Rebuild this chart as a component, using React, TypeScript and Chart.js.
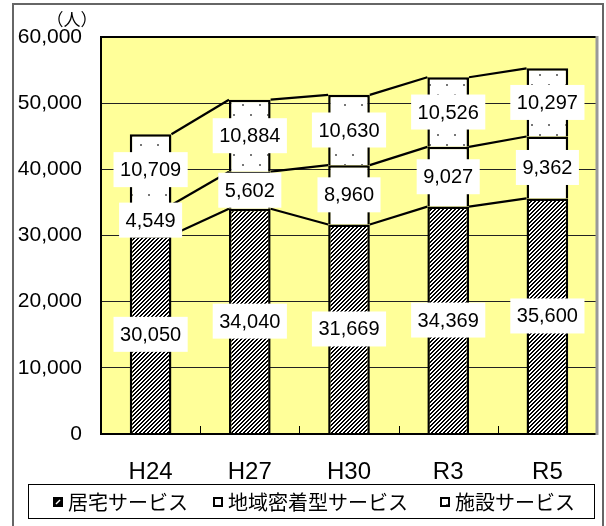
import React, { useEffect, useRef } from "react";
import { Chart, registerables } from "chart.js";

Chart.register(...registerables);

const categories = ["H24", "H27", "H30", "R3", "R5"];
const homeCare = [30050, 34040, 31669, 34369, 35600];
const communityBased = [4549, 5602, 8960, 9027, 9362];
const facility = [10709, 10884, 10630, 10526, 10297];
const seriesNames = ["居宅サービス", "地域密着型サービス", "施設サービス"];
const yTicks = [0, 10000, 20000, 30000, 40000, 50000, 60000];
const unitLabel = "（人）";

const LATIN = "'Liberation Sans', Arial, sans-serif";
const CJK = "'Noto Sans CJK JP', 'Noto Sans', sans-serif";

function makeHatch(ctx: CanvasRenderingContext2D) {
  const s = 4;
  const c = document.createElement("canvas");
  c.width = s;
  c.height = s;
  const g = c.getContext("2d")!;
  g.fillStyle = "#fff";
  g.fillRect(0, 0, s, s);
  g.fillStyle = "#000";
  for (let y = 0; y < s; y++) {
    const x0 = (s - 1 - y + s) % s;
    g.fillRect(x0, y, 1, 1);
    g.fillRect((x0 + 1) % s, y, 1, 1);
  }
  return ctx.createPattern(c, "repeat")!;
}

function makeDots(ctx: CanvasRenderingContext2D) {
  const w = 17;
  const h = 20;
  const c = document.createElement("canvas");
  c.width = w;
  c.height = h;
  const g = c.getContext("2d")!;
  g.fillStyle = "#fff";
  g.fillRect(0, 0, w, h);
  g.fillStyle = "#777";
  g.fillRect(4, 4, 2, 2);
  g.fillRect(12, 14, 2, 2);
  return ctx.createPattern(c, "repeat")!;
}

const framePlugin = {
  id: "frame",
  beforeDraw(chart: any) {
    const ctx = chart.ctx as CanvasRenderingContext2D;
    const a = chart.chartArea;
    ctx.save();
    ctx.fillStyle = "#fff";
    ctx.fillRect(0, 0, chart.width, chart.height);
    ctx.strokeStyle = "#666";
    ctx.lineWidth = 2;
    ctx.strokeRect(13, 4, 590, 560);
    ctx.fillStyle = "#FFFF99";
    ctx.fillRect(a.left, a.top, a.right - a.left, a.bottom - a.top);
    ctx.restore();
  },
  afterDatasetsDraw(chart: any) {
    const ctx = chart.ctx as CanvasRenderingContext2D;
    const a = chart.chartArea;
    ctx.save();
    // series lines between stacked tops
    ctx.strokeStyle = "#000";
    ctx.lineWidth = 2.2;
    chart.data.datasets.forEach((_: any, di: number) => {
      const meta = chart.getDatasetMeta(di);
      for (let i = 0; i < meta.data.length - 1; i++) {
        const b1 = meta.data[i];
        const b2 = meta.data[i + 1];
        ctx.beginPath();
        ctx.moveTo(b1.x + b1.width / 2, b1.y);
        ctx.lineTo(b2.x - b2.width / 2, b2.y);
        ctx.stroke();
      }
    });
    // inner category ticks
    ctx.lineWidth = 1;
    const n = categories.length;
    for (let k = 1; k < n; k++) {
      const px = Math.round(a.left + ((a.right - a.left) * k) / n) + 0.5;
      ctx.beginPath();
      ctx.moveTo(px, a.bottom - 8);
      ctx.lineTo(px, a.bottom);
      ctx.stroke();
    }
    // plot border
    ctx.lineWidth = 2;
    ctx.strokeStyle = "#000";
    ctx.beginPath();
    ctx.moveTo(a.right, a.top);
    ctx.lineTo(a.left, a.top);
    ctx.lineTo(a.left, a.bottom);
    ctx.lineTo(a.right, a.bottom);
    ctx.stroke();
    ctx.strokeStyle = "#999";
    ctx.lineWidth = 3;
    ctx.beginPath();
    ctx.moveTo(a.right, a.top - 1);
    ctx.lineTo(a.right, a.bottom + 1);
    ctx.stroke();
    ctx.restore();
  },
  afterDraw(chart: any) {
    const ctx = chart.ctx as CanvasRenderingContext2D;
    ctx.save();
    // data labels
    ctx.font = `20px ${LATIN}`;
    ctx.textAlign = "center";
    ctx.textBaseline = "middle";
    chart.data.datasets.forEach((ds: any, di: number) => {
      const meta = chart.getDatasetMeta(di);
      meta.data.forEach((bar: any, i: number) => {
        const cy = (bar.y + bar.base) / 2;
        const text = (ds.data[i] as number).toLocaleString("en-US");
        const w = ctx.measureText(text).width + 13;
        const h = 35;
        ctx.fillStyle = "#fff";
        ctx.fillRect(bar.x - w / 2, cy - h / 2, w, h);
        ctx.fillStyle = "#000";
        ctx.fillText(text, bar.x, cy + 1);
      });
    });
    // unit label
    ctx.font = `17px ${CJK}`;
    ctx.fillStyle = "#000";
    ctx.textAlign = "center";
    ctx.textBaseline = "middle";
    ctx.fillText(unitLabel, 72, 20);
    // legend
    ctx.strokeStyle = "#000";
    ctx.lineWidth = 1;
    ctx.strokeRect(28.5, 484.5, 566, 34);
    const markerX = [53, 213, 440];
    const fills = chart.data.datasets.map((d: any) => d.backgroundColor);
    ctx.font = `20px ${CJK}`;
    ctx.textAlign = "left";
    seriesNames.forEach((name, i) => {
      const mx = markerX[i];
      const my = 497;
      ctx.fillStyle = "#fff";
      ctx.fillRect(mx, my, 10, 10);
      if (i === 0) {
        ctx.fillStyle = "#000";
        ctx.fillRect(mx, my, 10, 10);
        ctx.strokeStyle = "#fff";
        ctx.lineWidth = 1.5;
        ctx.beginPath();
        ctx.moveTo(mx + 3, my + 7);
        ctx.lineTo(mx + 7, my + 3);
        ctx.stroke();
      } else {
        ctx.fillStyle = fills[i];
        ctx.fillRect(mx, my, 10, 10);
      }
      ctx.strokeStyle = "#000";
      ctx.lineWidth = 2;
      ctx.strokeRect(mx + 1, my + 1, 8, 8);
      ctx.fillStyle = "#000";
      ctx.fillText(name, mx + 15, 502);
    });
    ctx.restore();
  },
};

export default function App() {
  const ref = useRef<HTMLCanvasElement | null>(null);
  useEffect(() => {
    const canvas = ref.current!;
    const ctx = canvas.getContext("2d")!;
    const hatch = makeHatch(ctx);
    const dots = makeDots(ctx);
    const chart = new Chart(canvas, {
      type: "bar",
      data: {
        labels: categories,
        datasets: [
          { label: seriesNames[0], data: homeCare, backgroundColor: hatch as any, borderColor: "#000", borderWidth: 2.5 },
          { label: seriesNames[1], data: communityBased, backgroundColor: "#fff", borderColor: "#000", borderWidth: 2.5 },
          { label: seriesNames[2], data: facility, backgroundColor: dots as any, borderColor: "#000", borderWidth: 2.5 },
        ],
      },
      options: {
        responsive: false,
        animation: false,
        devicePixelRatio: 1,
        layout: { padding: { top: 37, right: 9, left: 0, bottom: 0 } },
        datasets: { bar: { categoryPercentage: 1, barPercentage: 0.42 } },
        plugins: { legend: { display: false }, tooltip: { enabled: false } },
        scales: {
          x: {
            stacked: true,
            grid: { display: false },
            border: { display: false },
            ticks: { font: { family: LATIN, size: 24 }, color: "#000", padding: 16 },
            afterFit: (s: any) => {
              s.height = 92;
            },
          },
          y: {
            stacked: true,
            min: 0,
            max: 60000,
            afterBuildTicks: (s: any) => {
              s.ticks = yTicks.map((v) => ({ value: v }));
            },
            grid: { color: "#222", lineWidth: 1, drawTicks: false },
            border: { display: false },
            ticks: {
              font: { family: LATIN, size: 21 },
              color: "#000",
              padding: 19,
              callback: (v: any) => Number(v).toLocaleString("en-US"),
            },
            afterFit: (s: any) => {
              s.width = 101;
            },
          },
        },
      },
      plugins: [framePlugin],
    });
    return () => chart.destroy();
  }, []);
  return (
    <div style={{ position: "absolute", left: 0, top: 0, width: 606, height: 526 }}>
      <canvas ref={ref} width={606} height={526} style={{ display: "block" }} />
    </div>
  );
}
